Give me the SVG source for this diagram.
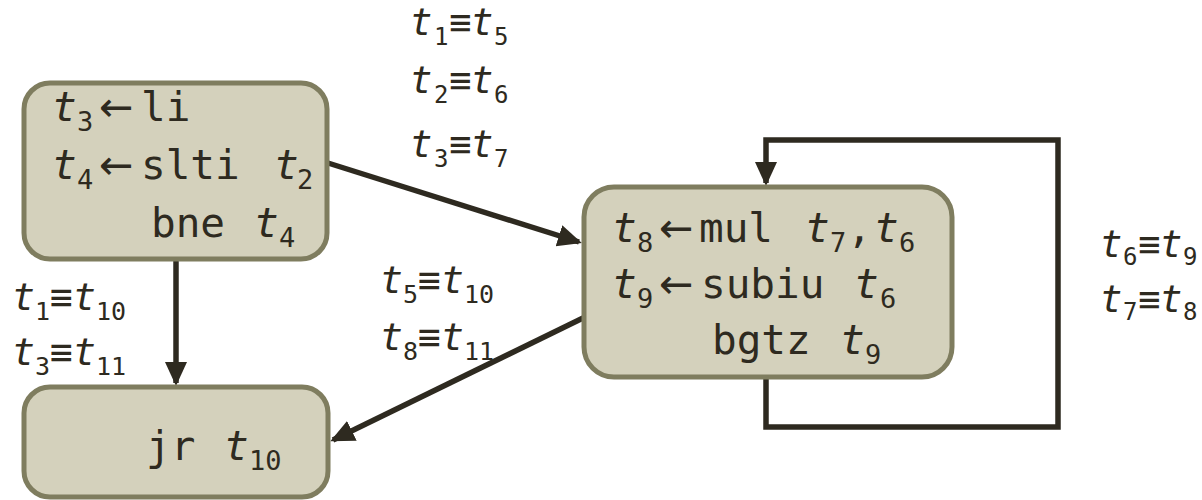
<svg xmlns="http://www.w3.org/2000/svg" width="1202" height="500" viewBox="0 0 1202 500">
<defs>
<style>
.box{fill:#d4d1bc;stroke:#7f7d5f;stroke-width:5}
.c{font-family:"DejaVu Sans Mono","Liberation Mono",monospace;font-size:41px;fill:#2e2a20}
.s{font-size:27px}
.i{font-style:italic}
.ar{font-family:"DejaVu Sans",sans-serif;font-size:41px}
.l{font-family:"DejaVu Sans Mono","Liberation Mono",monospace;font-size:38px;fill:#2e2a20}
.ls{font-size:25px}
.p{font-family:"DejaVu Sans Mono","Liberation Mono",monospace;font-size:37px;fill:#2e2a20}
.ps{font-size:24px}
.ln{fill:none;stroke:#2e2a20;stroke-width:5.5}
</style>
<marker id="ah" markerUnits="userSpaceOnUse" markerWidth="26" markerHeight="24" refX="21" refY="11" orient="auto">
<path d="M0,0 L24,11 L0,22 z" fill="#2e2a20"/>
</marker>
</defs>
<rect width="1202" height="500" fill="#ffffff"/>
<g id="connectors">
<line class="ln" x1="328" y1="163" x2="579" y2="242" marker-end="url(#ah)"/>
<line class="ln" x1="176" y1="260" x2="176" y2="383" marker-end="url(#ah)"/>
<line class="ln" x1="583" y1="318" x2="333" y2="440" marker-end="url(#ah)"/>
<path class="ln" d="M766,378 V427 H1058 V140 H766 V183" marker-end="url(#ah)"/>
</g>
<g id="labels-top">
<text class="p" y="35"><tspan class="i" x="410">t</tspan><tspan class="ps" x="434" dy="10">1</tspan><tspan x="449" dy="-10">≡</tspan><tspan class="i" x="471">t</tspan><tspan class="ps" x="494" dy="10">5</tspan></text>
<text class="p" y="93"><tspan class="i" x="410">t</tspan><tspan class="ps" x="434" dy="10">2</tspan><tspan x="449" dy="-10">≡</tspan><tspan class="i" x="471">t</tspan><tspan class="ps" x="494" dy="10">6</tspan></text>
<text class="p" y="157"><tspan class="i" x="410">t</tspan><tspan class="ps" x="434" dy="10">3</tspan><tspan x="449" dy="-10">≡</tspan><tspan class="i" x="471">t</tspan><tspan class="ps" x="494" dy="10">7</tspan></text>
</g>
<g id="labels-right">
<text class="p" y="257"><tspan class="i" x="1100">t</tspan><tspan class="ps" x="1123" dy="8">6</tspan><tspan x="1138" dy="-8">≡</tspan><tspan class="i" x="1160">t</tspan><tspan class="ps" x="1183" dy="8">9</tspan></text>
<text class="p" y="312"><tspan class="i" x="1100">t</tspan><tspan class="ps" x="1123" dy="8">7</tspan><tspan x="1138" dy="-8">≡</tspan><tspan class="i" x="1160">t</tspan><tspan class="ps" x="1183" dy="8">8</tspan></text>
</g>
<g id="labels-left">
<text class="l" y="310"><tspan class="i" x="12">t</tspan><tspan class="ls" x="35" dy="10">1</tspan><tspan x="50" dy="-10">≡</tspan><tspan class="i" x="73">t</tspan><tspan class="ls" x="96" dy="10">10</tspan></text>
<text class="l" y="365"><tspan class="i" x="12">t</tspan><tspan class="ls" x="35" dy="10">3</tspan><tspan x="50" dy="-10">≡</tspan><tspan class="i" x="73">t</tspan><tspan class="ls" x="96" dy="10">11</tspan></text>
</g>
<g id="labels-mid">
<text class="l" y="293"><tspan class="i" x="380">t</tspan><tspan class="ls" x="403" dy="10">5</tspan><tspan x="418" dy="-10">≡</tspan><tspan class="i" x="441">t</tspan><tspan class="ls" x="464" dy="10">10</tspan></text>
<text class="l" y="350"><tspan class="i" x="380">t</tspan><tspan class="ls" x="403" dy="10">8</tspan><tspan x="418" dy="-10">≡</tspan><tspan class="i" x="441">t</tspan><tspan class="ls" x="464" dy="10">11</tspan></text>
</g>
<g id="node-entry">
<rect class="box" x="24" y="83" width="303" height="176" rx="26"/>
<text class="c" y="121"><tspan class="i" x="52">t</tspan><tspan class="s" x="77" dy="10">3</tspan><tspan class="ar" x="99" dy="-10">←</tspan><tspan x="141">li</tspan></text>
<text class="c" y="179"><tspan class="i" x="52">t</tspan><tspan class="s" x="77" dy="10">4</tspan><tspan class="ar" x="99" dy="-10">←</tspan><tspan x="141">slti</tspan><tspan class="i" x="274">t</tspan><tspan class="s" x="297" dy="10">2</tspan></text>
<text class="c" y="237"><tspan x="151">bne</tspan><tspan class="i" x="254">t</tspan><tspan class="s" x="279" dy="10">4</tspan></text>
</g>
<g id="node-exit">
<rect class="box" x="24" y="387" width="304" height="110" rx="26"/>
<text class="c" y="460"><tspan x="146">jr</tspan><tspan class="i" x="224">t</tspan><tspan class="s" x="249" dy="10">10</tspan></text>
</g>
<g id="node-loop">
<rect class="box" x="584" y="187" width="368" height="190" rx="30"/>
<text class="c" y="242"><tspan class="i" x="612">t</tspan><tspan class="s" x="637" dy="10">8</tspan><tspan class="ar" x="659" dy="-10">←</tspan><tspan x="699">mul</tspan><tspan class="i" x="805">t</tspan><tspan class="s" x="830" dy="10">7</tspan><tspan x="847" dy="-10">,</tspan><tspan class="i" x="874">t</tspan><tspan class="s" x="899" dy="10">6</tspan></text>
<text class="c" y="298"><tspan class="i" x="612">t</tspan><tspan class="s" x="637" dy="10">9</tspan><tspan class="ar" x="659" dy="-10">←</tspan><tspan x="701">subiu</tspan><tspan class="i" x="854">t</tspan><tspan class="s" x="880" dy="10">6</tspan></text>
<text class="c" y="354"><tspan x="712">bgtz</tspan><tspan class="i" x="840">t</tspan><tspan class="s" x="865" dy="10">9</tspan></text>
</g>
</svg>
